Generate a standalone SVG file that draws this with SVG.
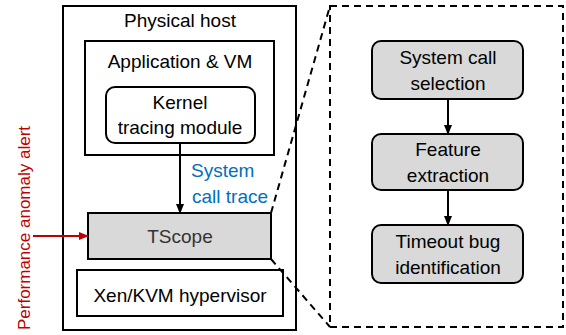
<svg xmlns="http://www.w3.org/2000/svg" width="566" height="335" viewBox="0 0 566 335">
<style>
  text { font-family: "Liberation Sans", Arial, sans-serif; font-size: 19px; fill: #000; text-anchor: middle; }
  .box { fill: #fff; stroke: #000; stroke-width: 2; }
  .grey { fill: #d9d9d9; stroke: #000; stroke-width: 2; }
  .dash { fill: none; stroke: #000; stroke-width: 2; stroke-dasharray: 7 5; }
  .conn { stroke: #000; stroke-width: 2; fill: none; }
  .blue { fill: #0070c0; text-anchor: start; }
</style>
<defs>
  <marker id="ah" markerWidth="10" markerHeight="10" refX="9" refY="5" orient="auto" markerUnits="userSpaceOnUse">
    <path d="M0,1 L10,5 L0,9 Z" fill="#000"/>
  </marker>
  <marker id="ahr" markerWidth="10" markerHeight="10" refX="9" refY="5" orient="auto" markerUnits="userSpaceOnUse">
    <path d="M0,1 L10,5 L0,9 Z" fill="#c00000"/>
  </marker>
</defs>
<g id="physical-host">
  <rect class="box" x="63" y="6" width="233" height="324"/>
  <text x="180" y="27">Physical host</text>
</g>
<g id="app-vm">
  <rect class="box" x="85" y="41" width="189" height="114"/>
  <text x="180" y="68">Application &amp; VM</text>
</g>
<g id="kernel-module">
  <rect class="box" x="106" y="87" width="149" height="56" rx="9"/>
  <text x="180" y="109">Kernel</text>
  <text x="180" y="134">tracing module</text>
</g>
<g id="tscope">
  <rect class="grey" x="88" y="213" width="183" height="46"/>
  <text x="180" y="243" style="fill:#333">TScope</text>
</g>
<g id="hypervisor">
  <rect class="box" x="77" y="270" width="206" height="46"/>
  <text x="180" y="302">Xen/KVM hypervisor</text>
</g>
<g id="alert-label">
  <text transform="translate(30,228) rotate(-90)" style="fill:#c00000;font-size:17px">Performance anomaly alert</text>
</g>
<g id="detail-box">
  <rect class="dash" x="330" y="6" width="233" height="321"/>
</g>
<g id="syscall-selection">
  <rect class="grey" x="372" y="41" width="151" height="58" rx="9"/>
  <text x="448" y="64">System call</text>
  <text x="448" y="90">selection</text>
</g>
<g id="feature-extraction">
  <rect class="grey" x="372" y="134" width="151" height="56" rx="9"/>
  <text x="448" y="156">Feature</text>
  <text x="448" y="182">extraction</text>
</g>
<g id="timeout-bug">
  <rect class="grey" x="372" y="225" width="151" height="58" rx="9"/>
  <text x="448" y="248">Timeout bug</text>
  <text x="448" y="274">identification</text>
</g>
<g id="connectors">
  <line class="conn" x1="180" y1="143" x2="180" y2="213" marker-end="url(#ah)"/>
  <text class="blue" x="191" y="177">System</text>
  <text class="blue" x="192" y="203">call trace</text>
  <line x1="33" y1="236" x2="88" y2="236" stroke="#c00000" stroke-width="2" marker-end="url(#ahr)"/>
  <line class="dash" x1="271" y1="213" x2="330" y2="6"/>
  <line class="dash" x1="271" y1="259" x2="330" y2="327"/>
  <line class="conn" x1="448" y1="99" x2="448" y2="134" marker-end="url(#ah)"/>
  <line class="conn" x1="448" y1="190" x2="448" y2="225" marker-end="url(#ah)"/>
</g>
</svg>
